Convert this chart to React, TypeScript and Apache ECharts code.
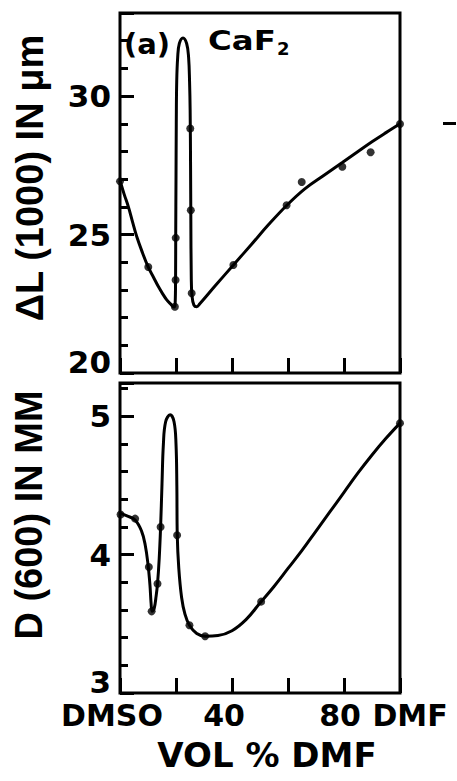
import React, { useEffect, useRef } from "react";
import * as echarts from "echarts";

// Top panel (a): ΔL(1000) in µm vs vol % DMF
const topCurveX = [0, 1.5, 3, 4.5, 6, 8, 10.1, 12, 13.7, 15.3, 16.7, 18.2, 19.3, 19.7, 19.85, 19.9, 20.0, 20.1, 20.25, 20.6, 21.2, 22.5, 23.8, 24.5, 24.85, 25.05, 25.2, 25.3, 25.45, 25.7, 26.4, 27.4, 28.5, 34, 40.5, 47, 53, 59.5, 66, 73, 79.4, 85, 90, 95, 100];
const topCurveY = [26.95, 26.45, 26.0, 25.45, 24.92, 24.35, 23.82, 23.45, 23.12, 22.85, 22.64, 22.48, 22.38, 22.5, 23.5, 25.0, 27.0, 29.0, 30.5, 31.4, 31.9, 32.1, 31.9, 31.4, 30.5, 29.5, 27.5, 25.5, 23.5, 22.8, 22.45, 22.39, 22.5, 23.15, 23.9, 24.65, 25.35, 26.05, 26.65, 27.15, 27.6, 28.0, 28.35, 28.68, 29.0];
const topDotsX = [0, 10.1, 19.6, 19.85, 19.9, 25.1, 25.3, 25.6, 40.5, 59.5, 64.9, 79.4, 89.5, 100];
const topDotsY = [26.92, 23.83, 22.39, 23.36, 24.88, 28.83, 25.88, 22.88, 23.9, 26.06, 26.9, 27.45, 27.97, 28.99];

// Bottom panel: D(600) in mm vs vol % DMF
const botCurveX = [0, 2.5, 5.4, 7.7, 9.0, 10.0, 10.7, 11.1, 11.5, 12.2, 12.9, 13.4, 14.0, 14.5, 15.0, 15.5, 16.3, 17.9, 19.3, 20.0, 20.3, 20.45, 21.0, 22.0, 23.2, 24.8, 27.4, 30.4, 35, 40, 45, 50, 55, 60, 65, 70, 75, 80, 85, 90, 95, 100];
const botCurveY = [4.30, 4.28, 4.25, 4.17, 4.07, 3.93, 3.78, 3.65, 3.59, 3.61, 3.70, 3.79, 3.97, 4.20, 4.51, 4.80, 4.96, 5.01, 4.96, 4.80, 4.50, 4.14, 3.90, 3.69, 3.57, 3.49, 3.43, 3.41, 3.415, 3.45, 3.53, 3.65, 3.77, 3.90, 4.03, 4.17, 4.31, 4.45, 4.59, 4.72, 4.84, 4.95];
const botDotsX = [0.2, 5.4, 10.3, 11.3, 13.4, 14.5, 20.4, 24.8, 30.4, 50.4, 100];
const botDotsY = [4.29, 4.26, 3.91, 3.59, 3.79, 4.2, 4.14, 3.49, 3.41, 3.66, 4.95];

const xTickLabels: Record<number, string> = { 0: "DMSO", 40: "40", 80: "80", 100: "DMF" };
const topYLabels = [20, 25, 30];
const botYLabels = [3, 4, 5];

const pairs = (xs: number[], ys: number[]) => xs.map((x, i) => [x, ys[i]]);

const INK = "#000";
const numFont = { fontFamily: "DejaVu Sans", fontWeight: "bold" as const, fontSize: 31, color: INK };

export default function App() {
  const ref = useRef<HTMLDivElement>(null);
  useEffect(() => {
    if (!ref.current) return;
    const chart = echarts.init(ref.current, undefined, { renderer: "svg" });

    const xAxisBase = {
      type: "value" as const,
      min: 0,
      max: 100,
      interval: 20,
      position: "bottom" as const,
      axisLine: { show: false },
      axisTick: { show: true, inside: true, length: 15, lineStyle: { color: INK, width: 3 } },
      splitLine: { show: false },
    };
    const minorY = (grid: number, min: number, max: number, interval: number) => ({
      type: "value" as const,
      gridIndex: grid,
      min,
      max,
      interval,
      position: "left" as const,
      axisLine: { show: false },
      axisTick: { show: true, inside: true, length: 8, lineStyle: { color: INK, width: 3 } },
      axisLabel: { show: false },
      splitLine: { show: false },
    });
    const majorY = (grid: number, min: number, max: number, interval: number, labels: number[]) => ({
      type: "value" as const,
      gridIndex: grid,
      min,
      max,
      interval,
      position: "left" as const,
      axisLine: { show: false },
      axisTick: { show: true, inside: true, length: 14, lineStyle: { color: INK, width: 3 } },
      axisLabel: {
        show: true,
        margin: 9,
        ...numFont,
        formatter: (v: number) => {
          const r = Math.round(v * 100) / 100;
          if (!labels.includes(r)) return "";
          return r === min ? `{lo|${r}}` : `{n|${r}}`;
        },
        rich: {
          n: { ...numFont },
          lo: { ...numFont, padding: [0, 0, 22, 0] },
        },
      },
      splitLine: { show: false },
    });

    const xlab = { fontFamily: "DejaVu Sans", fontWeight: "bold" as const, fontSize: 30, color: INK };

    chart.setOption({
      animation: false,
      backgroundColor: "#fff",
      grid: [
        { left: 120, top: 13, width: 280, height: 360, show: true, borderColor: INK, borderWidth: 3, backgroundColor: "transparent" },
        { left: 120, top: 383, width: 280, height: 310, show: true, borderColor: INK, borderWidth: 3, backgroundColor: "transparent" },
      ],
      xAxis: [
        { ...xAxisBase, gridIndex: 0, axisLabel: { show: false } },
        {
          ...xAxisBase,
          gridIndex: 1,
          axisLabel: {
            show: true,
            margin: 7,
            ...xlab,
            formatter: (v: number) => {
              const t = xTickLabels[v];
              if (!t) return "";
              if (v === 0) return `{a|${t}}`;
              if (v === 40) return `{b|${t}}`;
              if (v === 80) return `{c|${t}}`;
              return `{d|${t}}`;
            },
            rich: {
              a: { ...xlab, padding: [0, 16, 0, 0] },
              b: { ...xlab, padding: [0, 16, 0, 0] },
              c: { ...xlab, padding: [0, 8, 0, 0] },
              d: { ...xlab, padding: [0, 0, 0, 20] },
            },
          },
        },
      ],
      yAxis: [
        minorY(0, 20, 33, 1),
        majorY(0, 20, 33, 5, topYLabels),
        minorY(1, 3, 5.24, 0.2),
        majorY(1, 3, 5.24, 1, botYLabels),
      ],
      series: [
        {
          type: "line",
          xAxisIndex: 0,
          yAxisIndex: 1,
          data: pairs(topCurveX, topCurveY),
          showSymbol: false,
          smooth: 0.4,
          lineStyle: { color: INK, width: 3 },
          silent: true,
        },
        {
          type: "scatter",
          xAxisIndex: 0,
          yAxisIndex: 1,
          data: pairs(topDotsX, topDotsY),
          symbol: "circle",
          symbolSize: 8,
          itemStyle: { color: INK },
          silent: true,
        },
        {
          type: "line",
          xAxisIndex: 1,
          yAxisIndex: 3,
          data: pairs(botCurveX, botCurveY),
          showSymbol: false,
          smooth: 0.4,
          lineStyle: { color: INK, width: 3 },
          silent: true,
        },
        {
          type: "scatter",
          xAxisIndex: 1,
          yAxisIndex: 3,
          data: pairs(botDotsX, botDotsY),
          symbol: "circle",
          symbolSize: 8,
          itemStyle: { color: INK },
          silent: true,
        },
      ],
      graphic: [
        {
          type: "text",
          x: 30,
          y: 178,
          rotation: Math.PI / 2,
          style: { text: "ΔL (1000) IN μm", font: 'bold 38px "Liberation Sans"', fill: INK, align: "center", verticalAlign: "middle", textAlign: "center", textVerticalAlign: "middle" },
        },
        {
          type: "text",
          x: 29,
          y: 515,
          rotation: Math.PI / 2,
          style: { text: "D (600) IN MM", font: 'bold 38px "Liberation Sans"', fill: INK, align: "center", verticalAlign: "middle", textAlign: "center", textVerticalAlign: "middle" },
        },
        {
          type: "text",
          x: 267,
          y: 755,
          style: { text: "VOL % DMF", font: 'bold 34px "DejaVu Sans"', fill: INK, align: "center", verticalAlign: "middle", textAlign: "center", textVerticalAlign: "middle" },
        },
        {
          type: "text",
          x: 124,
          y: 44,
          style: { text: "(a)", font: 'bold 29px "DejaVu Sans"', fill: INK, align: "left", verticalAlign: "middle", textAlign: "left", textVerticalAlign: "middle" },
        },
        {
          type: "text",
          x: 208,
          y: 40,
          scaleX: 1.2,
          style: { text: "CaF", font: 'bold 27px "DejaVu Sans"', fill: INK, align: "left", verticalAlign: "middle", textAlign: "left", textVerticalAlign: "middle" },
        },
        {
          type: "text",
          x: 277,
          y: 48,
          style: { text: "2", font: 'bold 18px "DejaVu Sans"', fill: INK, align: "left", verticalAlign: "middle", textAlign: "left", textVerticalAlign: "middle" },
        },
        {
          type: "rect",
          shape: { x: 443, y: 122, width: 13, height: 3 },
          style: { fill: INK },
        },
      ],
    });
    return () => chart.dispose();
  }, []);
  return (
    <div
      ref={ref}
      style={{ position: "absolute", left: 0, top: 0, width: 457, height: 781, background: "#fff" }}
    />
  );
}
